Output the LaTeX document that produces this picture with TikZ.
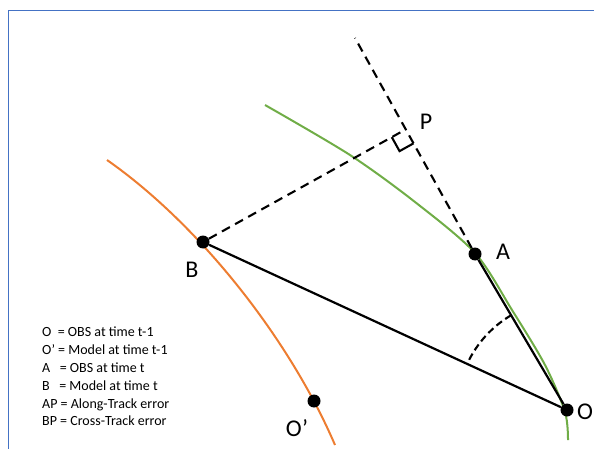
\documentclass[tikz,border=0pt]{standalone}
\usepackage{fontspec}
\setmainfont{Carlito}
\usepackage{tikz}
\usetikzlibrary{
  calc,%
  angles,%
  positioning
}
\tikzset{>=latex}
\definecolor{trackgreen}{RGB}{112,173,71}
\definecolor{trackorange}{RGB}{237,125,49}
\definecolor{frameblue}{RGB}{68,114,196}
\tikzset{dot/.style={circle, fill=black, inner sep=0pt, minimum size=13pt}}
\tikzset{ptlabel/.style={font=\fontsize{24}{24}\selectfont, inner sep=0pt}}
\tikzset{errline/.style={line width=2.1pt, dash pattern=on 9pt off 6pt}}

\begin{document}
\begin{tikzpicture}[x=1pt, y=-1pt]
  \useasboundingbox (0,0) rectangle (594,449);
  \draw[frameblue, line width=1.5pt] (8.5,449) -- (8.5,10.5) -- (594,10.5);
  % the two tracks
  \draw[trackorange, line width=2pt] (107,160) .. controls (200,225) and (290,340) .. (335,445);
  \draw[trackgreen, line width=2pt] plot[smooth] coordinates {(265,105) (350,155) (415,202) (475,253) (512,310) (545,365) (565,412) (568,440)};
  % positions
  \node[dot] (O) at (567,410) {};
  \node[dot] (A) at (475,254) {};
  \node[dot] (B) at (203,242) {};
  \node[dot] (Oprime) at (314,401) {};
  \coordinate (top) at (355,38);
  \coordinate (P) at ($(A)!(B)!(top)$);
  \draw[line width=2.2pt] (B) -- (O) -- (A);
  \draw[errline] (A) -- (top);
  \draw[errline] (B) -- (P);
  % right angle at P
  \coordinate (sqB) at ($(P)!16pt!(B)$);
  \coordinate (sqA) at ($(P)!16pt!(A)$);
  \draw[line width=2.1pt] (sqB) -- ($(sqB)+(sqA)-(P)$) -- (sqA);
  \pic[draw, line width=2.1pt, dash pattern=on 7pt off 4pt, angle radius=110pt] {angle=A--O--B};
  % labels
  \node[ptlabel] (labP) at (426,122) {P};
  \node[ptlabel] (labA) at (503,252) {A};
  \node[ptlabel] (labB) at (192,270) {B};
  \node[ptlabel] (labO) at (585,412) {O};
  \node[ptlabel] (labOp) at (297,428) {O’};
  \node[anchor=north west, align=left, inner sep=0pt, font=\fontsize{14}{17.8}\selectfont] (legend) at (42,327)
    {O\ \ = OBS at time t-1\\ O’ = Model at time t-1\\ A\ \ \ = OBS at time t\\ B\ \ \ = Model at time t\\ AP = Along-Track error\\ BP = Cross-Track error};
\end{tikzpicture}
\end{document}
